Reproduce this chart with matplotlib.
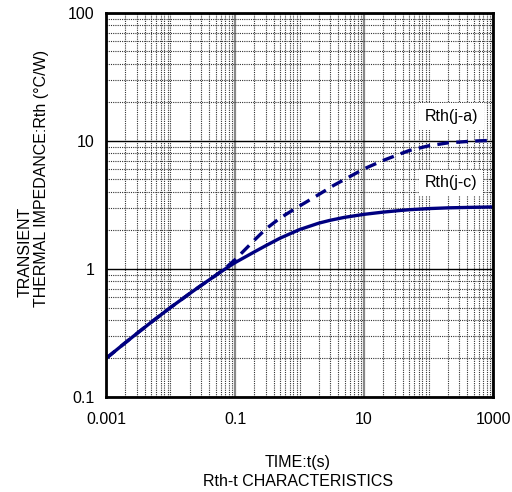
import matplotlib
matplotlib.use('Agg')
import matplotlib.pyplot as plt
from matplotlib.ticker import LogLocator, NullFormatter, FixedLocator

plt.rcParams['font.family'] = ['Liberation Sans', 'DejaVu Sans']

# values
time_jc = [0.001, 0.002, 0.003, 0.005, 0.01, 0.02, 0.03, 0.05, 0.07, 0.1, 0.2, 0.3, 0.5,
           1, 2, 3, 5, 10, 20, 36, 50, 100, 200, 500, 1000]
rth_jc = [0.2, 0.266, 0.313, 0.383, 0.5, 0.645, 0.745, 0.89, 0.998, 1.12, 1.36, 1.52, 1.74,
          2.03, 2.28, 2.4, 2.53, 2.67, 2.78, 2.86, 2.9, 2.96, 3.0, 3.03, 3.05]
time_ja = [0.001, 0.002, 0.003, 0.005, 0.01, 0.02, 0.03, 0.05, 0.07, 0.1, 0.2, 0.3, 0.5,
           1, 2, 3.4, 5, 10, 20, 36, 50, 100, 200, 500, 1000]
rth_ja = [0.2, 0.266, 0.313, 0.383, 0.5, 0.645, 0.745, 0.89, 1.01, 1.18, 1.68, 2.05, 2.5,
          3.1, 3.82, 4.5, 5.0, 6.05, 7.05, 7.9, 8.4, 9.15, 9.65, 9.97, 10.1]
x_ticks = [0.001, 0.1, 10, 1000]
x_labels = ['0.001', '0.1', '10', '1000']
y_ticks = [0.1, 1, 10, 100]
y_labels = ['0.1', '1', '10', '100']

fig = plt.figure(figsize=(5.12, 4.92), dpi=100)
ax = fig.add_axes([0.207, 0.193, 0.756, 0.781])
ax.set_xscale('log')
ax.set_yscale('log')
ax.set_xlim(0.001, 1000)
ax.set_ylim(0.1, 100)

ax.xaxis.set_major_locator(FixedLocator(x_ticks))
ax.set_xticklabels(x_labels)
ax.yaxis.set_major_locator(FixedLocator(y_ticks))
ax.set_yticklabels(y_labels)
ax.xaxis.set_minor_locator(LogLocator(base=10, subs=range(1, 10), numticks=50))
ax.yaxis.set_minor_locator(LogLocator(base=10, subs=range(2, 10), numticks=50))
ax.xaxis.set_minor_formatter(NullFormatter())
ax.yaxis.set_minor_formatter(NullFormatter())
ax.tick_params(which='both', length=0, labelsize=11.5)
ax.tick_params(axis='x', pad=11)
ax.tick_params(axis='y', pad=8)

ax.grid(which='minor', axis='both', linestyle=(0, (1, 1)), color='#333333', lw=0.8)
ax.grid(which='major', axis='x', linestyle='-', color='#888888', lw=1.6)
ax.grid(which='major', axis='y', linestyle='-', color='black', lw=1.0)
ax.set_axisbelow(True)
for sp in ax.spines.values():
    sp.set_linewidth(2)

ax.plot(time_jc, rth_jc, color='#000080', lw=2.4)
ax.plot(time_ja, rth_ja, color='#000080', lw=2.4, linestyle=(0, (3.5, 2.2)))

box = dict(facecolor='white', edgecolor='none', pad=4)
ax.text(225, 15.5, 'Rth(j-a)', fontsize=11.5, ha='center', va='center', bbox=box)
ax.text(225, 4.72, 'Rth(j-c)', fontsize=11.5, ha='center', va='center', bbox=box)

fig.text(25 / 512, 1 - 252 / 492, 'TRANSIENT', rotation=90, fontsize=11.5, ha='center', va='center')
fig.text(42 / 512, 1 - 178 / 492, 'THERMAL IMPEDANCE:Rth (°C/W)', rotation=90, fontsize=11.5,
         ha='center', va='center')
fig.text(298 / 512, 1 - 462 / 492, 'TIME:t(s)', fontsize=11.5, ha='center', va='center')
fig.text(298 / 512, 1 - 481 / 492, 'Rth-t CHARACTERISTICS', fontsize=11.5, ha='center', va='center')

fig.savefig('out.png', dpi=100)
